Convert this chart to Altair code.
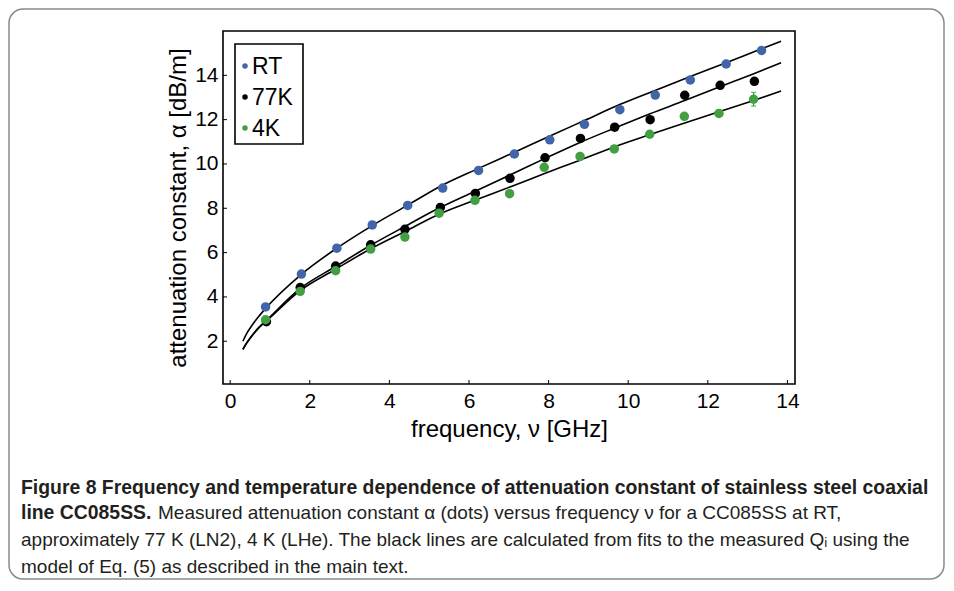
import altair as alt
import pandas as pd

# ---- measured points ----
series_names = ["RT", "77K", "4K"]
series_colors = ["#4264a8", "#000000", "#42a043"]

freq_rt = [0.89, 1.79, 2.68, 3.57, 4.46, 5.34, 6.24, 7.14, 8.03, 8.90, 9.79, 10.68, 11.56, 12.46, 13.35]
alpha_rt = [3.55, 5.03, 6.20, 7.25, 8.13, 8.91, 9.71, 10.45, 11.09, 11.79, 12.45, 13.11, 13.79, 14.51, 15.12]
freq_77k = [0.91, 1.76, 2.65, 3.53, 4.39, 5.28, 6.16, 7.03, 7.91, 8.80, 9.66, 10.55, 11.42, 12.31, 13.17]
alpha_77k = [2.88, 4.42, 5.39, 6.35, 7.05, 8.04, 8.67, 9.35, 10.28, 11.15, 11.66, 12.00, 13.10, 13.55, 13.73]
freq_4k = [0.89, 1.76, 2.65, 3.53, 4.39, 5.25, 6.15, 7.02, 7.89, 8.79, 9.65, 10.54, 11.41, 12.28, 13.15]
alpha_4k = [2.97, 4.25, 5.18, 6.16, 6.70, 7.78, 8.36, 8.66, 9.85, 10.34, 10.68, 11.34, 12.15, 12.28, 12.92]
err_freq = [13.15]
err_lo = [12.61]
err_hi = [13.23]

# ---- fitted curves ----
fit_freq_rt = [0.32, 0.40, 0.55, 0.70, 0.91, 1.79, 2.68, 3.57, 4.46, 5.34, 6.24, 7.13, 8.02, 8.91, 9.80, 10.69, 11.56, 12.46, 13.35, 13.84]
fit_alpha_rt = [2.00, 2.30, 2.72, 3.08, 3.52, 5.02, 6.20, 7.22, 8.14, 9.05, 9.80, 10.52, 11.25, 11.97, 12.69, 13.33, 13.95, 14.57, 15.20, 15.54]
fit_freq_low = [0.32, 0.40, 0.55, 0.70, 0.91, 1.76, 2.65, 3.53, 4.39, 5.26, 6.13, 7.03, 7.90, 8.79, 9.66, 10.55, 11.42, 12.30, 13.17, 13.84]
fit_alpha_77k = [1.63, 1.88, 2.26, 2.58, 2.94, 4.38, 5.37, 6.33, 7.18, 8.02, 8.75, 9.50, 10.24, 10.97, 11.62, 12.27, 12.86, 13.48, 14.08, 14.57]
fit_alpha_4k = [1.63, 1.88, 2.25, 2.57, 2.91, 4.29, 5.25, 6.17, 6.95, 7.74, 8.35, 8.96, 9.57, 10.17, 10.78, 11.33, 11.85, 12.37, 12.88, 13.29]

x_ticks = [0, 2, 4, 6, 8, 10, 12, 14]
y_ticks = [2, 4, 6, 8, 10, 12, 14]

caption_1 = "Figure 8  Frequency and temperature dependence of attenuation constant of stainless steel coaxial"
caption_2a = "line CC085SS."
caption_2b = "Measured attenuation constant α (dots) versus frequency ν for a CC085SS at RT,"
caption_3 = "approximately 77 K (LN2), 4 K (LHe). The black lines are calculated from fits to the measured Qᵢ using the"
caption_4 = "model of Eq. (5) as described in the main text."

pts = pd.DataFrame({
    "freq": freq_rt + freq_77k + freq_4k,
    "alpha": alpha_rt + alpha_77k + alpha_4k,
    "series": ["RT"] * len(freq_rt) + ["77K"] * len(freq_77k) + ["4K"] * len(freq_4k),
    "ord": [0] * len(freq_rt) + [1] * len(freq_77k) + [2] * len(freq_4k),
})
fits = pd.DataFrame({
    "freq": fit_freq_rt + fit_freq_low + fit_freq_low,
    "alpha": fit_alpha_rt + fit_alpha_77k + fit_alpha_4k,
    "series": ["RT"] * len(fit_freq_rt) + ["77K"] * len(fit_freq_low) + ["4K"] * len(fit_freq_low),
})
err = pd.DataFrame({"freq": err_freq, "lo": err_lo, "hi": err_hi})

W, H = 572, 353
FONT = "Liberation Sans"
CAPFONT = "Liberation Sans"

xs = alt.Scale(domain=[-0.18, 14.19], nice=False, zero=False)
ys = alt.Scale(domain=[0.07, 16.0], nice=False, zero=False)

xax = alt.Axis(values=x_ticks, title="frequency, ν [GHz]", grid=False, tickSize=0,
               labelPadding=6, titlePadding=6, domain=False)
yax = alt.Axis(values=y_ticks, title="attenuation constant, α [dB/m]", grid=False, tickSize=0,
               labelPadding=5, titlePadding=4, domain=False)

one = pd.DataFrame({"k": [0]})

frame = alt.Chart(one).mark_rect(
    fillOpacity=0, stroke="#8a8a8a", strokeWidth=1.5, cornerRadius=14
).encode(x=alt.value(-214), x2=alt.value(721), y=alt.value(-22), y2=alt.value(548))

lines = alt.Chart(fits).mark_line(color="black", strokeWidth=1.6, interpolate="monotone").encode(
    x=alt.X("freq:Q", scale=xs, axis=xax),
    y=alt.Y("alpha:Q", scale=ys, axis=yax),
    detail="series:N",
)

dots = alt.Chart(pts).mark_circle(size=90, opacity=1).encode(
    x=alt.X("freq:Q", scale=xs),
    y=alt.Y("alpha:Q", scale=ys),
    color=alt.Color("series:N", scale=alt.Scale(domain=series_names, range=series_colors),
                    legend=None),
    order=alt.Order("ord:Q"),
)

ebar = alt.Chart(err).mark_rule(color=series_colors[2], strokeWidth=1.3).encode(
    x=alt.X("freq:Q", scale=xs), y=alt.Y("lo:Q", scale=ys), y2="hi:Q")
ecap_lo = alt.Chart(err).mark_tick(color=series_colors[2], orient="horizontal", size=5, thickness=1.3).encode(
    x=alt.X("freq:Q", scale=xs), y=alt.Y("lo:Q", scale=ys))
ecap_hi = alt.Chart(err).mark_tick(color=series_colors[2], orient="horizontal", size=5, thickness=1.3).encode(
    x=alt.X("freq:Q", scale=xs), y=alt.Y("hi:Q", scale=ys))

xt = pd.DataFrame({"t": x_ticks})
yt = pd.DataFrame({"t": y_ticks})
xtick_marks = alt.Chart(xt).mark_rule(color="black", strokeWidth=1).encode(
    x=alt.X("t:Q", scale=xs), y=alt.value(H), y2=alt.value(H - 4))
ytick_marks = alt.Chart(yt).mark_rule(color="black", strokeWidth=1).encode(
    y=alt.Y("t:Q", scale=ys), x=alt.value(0), x2=alt.value(4))

# ---- legend box drawn by hand ----
legend_box = alt.Chart(one).mark_rect(fill="white", stroke="black", strokeWidth=1.6).encode(
    x=alt.value(12), x2=alt.value(80), y=alt.value(13), y2=alt.value(113))
legend_layers = [legend_box]
for i, (name, col) in enumerate(zip(series_names, series_colors)):
    d = pd.DataFrame({"name": [name]})
    legend_layers.append(
        alt.Chart(d).mark_circle(size=30, opacity=1, color=col).encode(
            x=alt.value(22), y=alt.value(35 + 31 * i)))
    legend_layers.append(
        alt.Chart(d).mark_text(align="left", baseline="middle", font=FONT, fontSize=23, color="black").encode(
            text="name:N", x=alt.value(29), y=alt.value(36 + 31 * i)))


def cap(text, x, y, bold):
    return alt.Chart(pd.DataFrame({"txt": [text]})).mark_text(
        align="left", baseline="middle", font=CAPFONT, fontSize=19.4 if bold else 19,
        fontWeight="bold" if bold else "normal", color="#231f20"
    ).encode(text="txt:N", x=alt.value(x), y=alt.value(y))


caps = [
    cap(caption_1, -202, 457, True),
    cap(caption_2a, -202, 482, True),
    cap(caption_2b, -65, 482, False),
    cap(caption_3, -202, 509, False),
    cap(caption_4, -202, 536, False),
]

chart = alt.layer(frame, lines, dots, ebar, ecap_lo, ecap_hi, xtick_marks, ytick_marks,
                  *legend_layers, *caps).properties(
    width=W, height=H, padding=0
).configure_view(
    stroke="black", strokeWidth=1.6
).configure_axis(
    labelFont=FONT, titleFont=FONT, labelFontSize=21, titleFontSize=24,
    titleFontWeight="normal", labelColor="black", titleColor="black"
)

chart.save("out.html", embed_options={"renderer": "svg", "actions": False})
